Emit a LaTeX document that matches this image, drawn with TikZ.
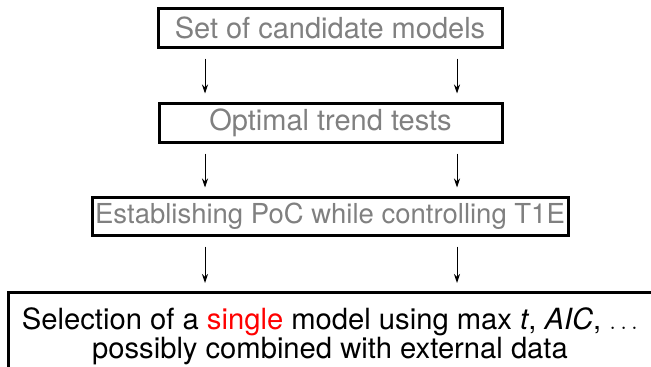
\documentclass[tikz,border=0pt]{standalone}
\usepackage{fontspec}
\setmainfont{TeX Gyre Heros}
\usetikzlibrary{arrows.meta,calc}
\tikzset{
  stagebox/.style={draw=black, line width=3pt, fill=white, inner sep=0pt, text=black!50, font=\fontsize{29}{34}\selectfont},
  arr/.style={line width=1pt, -{Stealth[length=9pt,width=6pt]}, shorten <=10pt, shorten >=8pt},
  txt/.style={font=\fontsize{29.2}{34}\selectfont, text=black, inner sep=0pt, anchor=base}
}
\begin{document}
\begin{tikzpicture}[x=1pt,y=-1pt]
\useasboundingbox (0,0) rectangle (651,367);
\clip (0,0) rectangle (651,367);
\node[stagebox, minimum width=344pt, minimum height=39pt] (b1) at (330,27.5) {Set of candidate models};
\node[stagebox, minimum width=343pt, minimum height=39pt] (b2) at (330.5,122.5) {Optimal trend tests};
\node[stagebox, minimum width=476pt, minimum height=38pt, font=\fontsize{27.5}{32}\selectfont] (b3) at (330,216) {Establishing PoC while controlling T1E};
\node[draw=black, line width=3pt, minimum width=646pt, minimum height=120pt, anchor=north west, inner sep=0pt] (b4) at (7,291) {};
\node[txt] (t1) at (330,329) {Selection of a \textcolor{red}{single} model using max \textit{t}, \textit{AIC}, $\ldots$};
\node[txt] (t2) at (330,358) {possibly combined with external data};
\coordinate (L) at (205,0);
\coordinate (R) at (457,0);
\draw[arr] (b1.south -| L) -- (b2.north -| L);
\draw[arr] (b1.south -| R) -- (b2.north -| R);
\draw[arr] (b2.south -| L) -- (b3.north -| L);
\draw[arr] (b2.south -| R) -- (b3.north -| R);
\draw[arr] (b3.south -| L) -- (b4.north -| L);
\draw[arr] (b3.south -| R) -- (b4.north -| R);
\end{tikzpicture}
\end{document}
